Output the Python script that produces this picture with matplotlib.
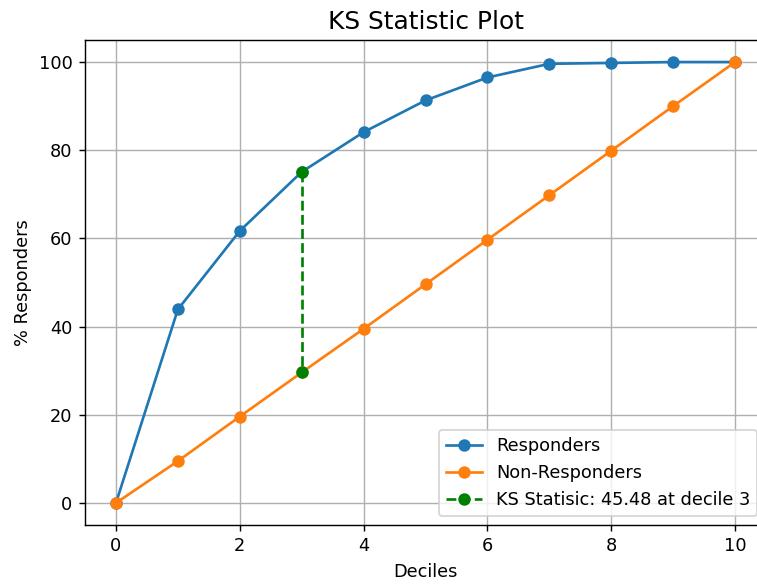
import matplotlib
matplotlib.use("Agg")
import matplotlib.pyplot as plt
import numpy as np

# Cumulative % of responders / non-responders by decile
deciles = [0, 1, 2, 3, 4, 5, 6, 7, 8, 9, 10]
responders = [0, 43.9, 61.7, 75.08, 84.1, 91.3, 96.5, 99.6, 99.8, 100, 100]
non_responders = [0, 9.5, 19.6, 29.6, 39.5, 49.6, 59.7, 69.8, 79.9, 90.0, 100]

gap = np.array(responders) - np.array(non_responders)
ks_idx = int(np.argmax(gap))
ks_value = gap[ks_idx]
ks_decile = deciles[ks_idx]

DPI = 128
fig = plt.figure(figsize=(757 / DPI, 584 / DPI), dpi=DPI)
ax = fig.add_axes([0.1123, 0.1010, 0.8996, 0.8305])

ax.plot(deciles, responders, marker="o", label="Responders")
ax.plot(deciles, non_responders, marker="o", label="Non-Responders")
ax.plot([ks_decile, ks_decile],
        [responders[ks_idx], non_responders[ks_idx]],
        "g--", marker="o",
        label=f"KS Statisic: {ks_value:.2f} at decile {ks_decile}")

ax.set_title("KS Statistic Plot", fontsize=14)
ax.set_xlabel("Deciles")
ax.set_ylabel("% Responders")
ax.grid(True)
ax.legend(loc="lower right")

fig.savefig("out.png", dpi=DPI)
